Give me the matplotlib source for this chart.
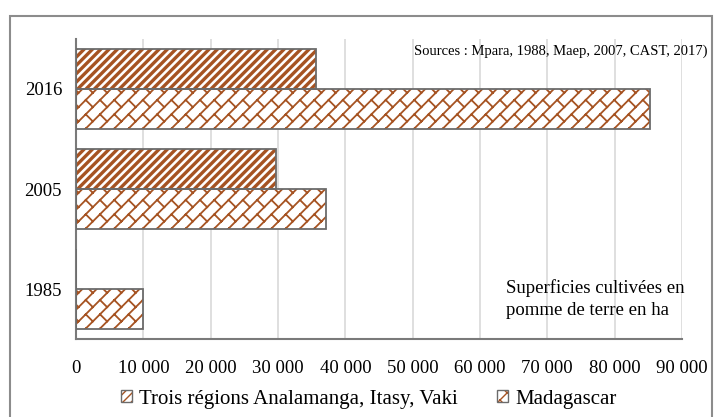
import warnings
import numpy as np
import matplotlib
matplotlib.use("Agg")
import matplotlib.pyplot as plt
import matplotlib.hatch as mhatch
from matplotlib.path import Path
from matplotlib.patches import Patch, Rectangle
from matplotlib.legend_handler import HandlerTuple

warnings.filterwarnings("ignore")

years = ["1985", "2005", "2016"]
trois = [0, 29700, 35600]            # Trois régions Analamanga, Itasy, Vaki
madagascar = [10000, 37100, 85300]   # Madagascar
xticks = np.arange(0, 90001, 10000)
xtick_labels = ["0" if v == 0 else f"{v // 1000} 000" for v in xticks]

BROWN = "#A65322"
EDGE = "#6b6b6b"
plt.rcParams["font.family"] = ["Liberation Serif", "DejaVu Serif"]


class DiagonalBrick(mhatch.HatchPatternBase):
    # excel-like "wide diagonal brick": long '/' lines with staggered '\' joints
    # n lines per tile (odd), joints every B along x+y, B = 2/(2m+1) keeps the tile periodic
    def __init__(self, hatch, density):
        self.segs = []
        if "k" in hatch:
            n, m = 7, 3
            a, B = 1.0 / n, 2.0 / (2 * m + 1)
            for i in range(-n - 1, 2 * n + 2):
                c = i * a
                self.segs.append(((c - 1.5, -1.5), (c + 2.5, 2.5)))
                off = (i % 2) * B / 2
                for j in range(-2, int(2 / B) + 3):
                    s = j * B + off
                    x0, y0 = (s + c) / 2, (s - c) / 2
                    if -0.3 < x0 < 1.3 and -0.3 < y0 < 1.3:
                        self.segs.append(((x0, y0), (x0 + a / 2, y0 - a / 2)))
        self.num_vertices = 2 * len(self.segs)

    def set_vertices_and_codes(self, vertices, codes):
        s = np.array(self.segs, dtype=float)
        vertices[0::2] = s[:, 0]
        vertices[1::2] = s[:, 1]
        codes[0::2] = Path.MOVETO
        codes[1::2] = Path.LINETO


mhatch._hatch_types.append(DiagonalBrick)


def hatched_bars(ax, pos, vals, hatch, hlw):
    with plt.rc_context({"hatch.linewidth": hlw}):
        bars = ax.barh(pos, vals, height=0.4, color="white", edgecolor=BROWN,
                       linewidth=0, hatch=hatch, zorder=2)
    for b in bars:
        if hasattr(b, "set_hatch_linewidth"):
            b.set_hatch_linewidth(hlw)
    ax.barh(pos, vals, height=0.4, fill=False, edgecolor=EDGE, linewidth=1.3, zorder=3)
    return bars


fig = plt.figure(figsize=(7.15, 4.17), dpi=100)
ax = fig.add_axes([0.1063, 0.187, 0.8475, 0.7195])

pos = np.arange(len(years))
hatched_bars(ax, pos + 0.2, trois, "////", 2.4)
hatched_bars(ax, pos - 0.2, madagascar, "k", 1.3)

ax.set_xlim(0, 90000)
ax.set_ylim(-0.5, 2.5)
ax.set_xticks(xticks)
ax.set_xticklabels(xtick_labels)
ax.set_yticks(pos)
ax.set_yticklabels(years)
ax.tick_params(axis="both", length=0, labelsize=13.5)
ax.tick_params(axis="x", pad=15)
ax.tick_params(axis="y", pad=10)
ax.grid(axis="x", color="#d9d9d9", linewidth=1.2)
ax.set_axisbelow(True)
for side in ["top", "right"]:
    ax.spines[side].set_visible(False)
for side in ["left", "bottom"]:
    ax.spines[side].set_color("#7a7a7a")
    ax.spines[side].set_linewidth(1.5)

fig.text(708 / 715, 1 - 51 / 417, "Sources : Mpara, 1988, Maep, 2007, CAST, 2017)",
         ha="right", va="center", fontsize=10.5)
fig.text(506 / 715, 1 - 293 / 417, "Superficies cultivées en", ha="left",
         va="baseline", fontsize=13.5)
fig.text(506 / 715, 1 - 315 / 417, "pomme de terre en ha", ha="left",
         va="baseline", fontsize=13.5)

handles = []
for h, lw in [("////", 2.4), ("k", 1.3)]:
    with plt.rc_context({"hatch.linewidth": lw}):
        hp = Patch(facecolor="white", edgecolor=BROWN, linewidth=0, hatch=h)
    op = Patch(fill=False, edgecolor=EDGE, linewidth=1.0)
    handles.append((hp, op))
fig.legend(handles, ["Trois régions Analamanga, Itasy, Vaki", "Madagascar"],
           handler_map={tuple: HandlerTuple(ndivide=1)}, loc="center",
           bbox_to_anchor=(0.516, 0.043), ncol=2, frameon=False, fontsize=15,
           handlelength=0.5, handleheight=0.5, handletextpad=0.35,
           columnspacing=1.9)

fig.add_artist(Rectangle((9.5 / 715, -0.1), (712 - 9.5) / 715, 1.1 - 16 / 417,
                         transform=fig.transFigure, fill=False,
                         edgecolor="#8c8c8c", linewidth=1.5, clip_on=False))

fig.savefig("out.png", dpi=100)
